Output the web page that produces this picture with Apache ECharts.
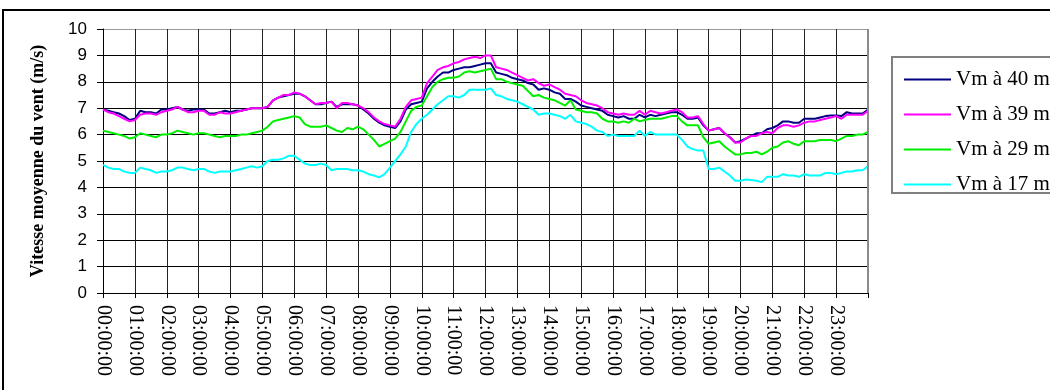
<!DOCTYPE html>
<html>
<head>
<meta charset="utf-8">
<script src="https://cdn.jsdelivr.net/npm/echarts@6/dist/echarts.min.js"></script>
<style>
  html, body { margin: 0; padding: 0; background: #fff; }
  #chart { width: 1050px; height: 390px; }
</style>
</head>
<body>
<div id="chart"></div>
<script>
// Mean wind speed, 10-minute steps over one day (00:00 -> 24:00), four heights
const vm40 = [
  6.95, 6.9, 6.85, 6.8, 6.7, 6.55,
  6.6, 6.9, 6.85, 6.85, 6.8, 6.95,
  6.95, 7.0, 7.05, 6.95, 6.9, 6.95,
  6.95, 6.95, 6.8, 6.8, 6.85, 6.9,
  6.85, 6.9, 6.9, 6.95, 7.0, 7.0,
  7.0, 7.05, 7.3, 7.4, 7.45, 7.5,
  7.55, 7.55, 7.45, 7.3, 7.15, 7.15,
  7.2, 7.25, 7.05, 7.15, 7.15, 7.15,
  7.1, 6.95, 6.8, 6.6, 6.45, 6.35,
  6.3, 6.25, 6.5, 6.95, 7.15, 7.2,
  7.25, 7.75, 8.0, 8.2, 8.35, 8.35,
  8.45, 8.5, 8.55, 8.55, 8.6, 8.65,
  8.7, 8.7, 8.35, 8.3, 8.25, 8.15,
  8.1, 8.05, 7.95, 7.9, 7.7, 7.75,
  7.7, 7.6, 7.55, 7.35, 7.35, 7.25,
  7.1, 7.05, 7.0, 6.95, 6.9, 6.75,
  6.7, 6.65, 6.7, 6.6, 6.6, 6.75,
  6.65, 6.75, 6.7, 6.75, 6.8, 6.85,
  6.85, 6.75, 6.6, 6.6, 6.65, 6.35,
  6.15, 6.2, 6.25, 6.05, 5.9, 5.7,
  5.75, 5.85, 5.95, 6.05, 6.05, 6.2,
  6.25, 6.35, 6.5, 6.5, 6.45, 6.45,
  6.6, 6.6, 6.6, 6.65, 6.7, 6.72,
  6.72, 6.7, 6.85, 6.8, 6.8, 6.8,
  6.95
];
const vm39 = [
  6.95, 6.85, 6.8, 6.7, 6.6, 6.5,
  6.55, 6.75, 6.8, 6.8, 6.75, 6.85,
  6.9, 6.95, 7.05, 6.95, 6.85, 6.85,
  6.9, 6.9, 6.75, 6.75, 6.85, 6.8,
  6.8, 6.85, 6.9, 6.95, 7.0, 7.0,
  7.0, 7.05, 7.3, 7.4, 7.5, 7.5,
  7.6, 7.55, 7.45, 7.3, 7.15, 7.2,
  7.2, 7.25, 7.0, 7.2, 7.2, 7.15,
  7.1, 7.0, 6.85, 6.65, 6.5, 6.4,
  6.35, 6.3, 6.6, 7.05, 7.3, 7.35,
  7.4, 7.95, 8.2, 8.45, 8.55, 8.6,
  8.7, 8.75, 8.85, 8.9, 8.95, 8.9,
  9.0, 9.0, 8.55, 8.5, 8.45, 8.35,
  8.25, 8.15, 8.05, 8.1, 7.95, 7.85,
  7.9, 7.8, 7.7, 7.55, 7.5, 7.45,
  7.3, 7.2, 7.15, 7.1, 7.0, 6.85,
  6.8, 6.75, 6.8, 6.75, 6.75, 6.9,
  6.75, 6.9, 6.85, 6.8, 6.85, 6.9,
  6.95, 6.85, 6.65, 6.65, 6.7, 6.4,
  6.15, 6.2, 6.25, 6.05, 5.9, 5.7,
  5.7, 5.85, 5.95, 5.95, 6.05, 6.1,
  6.05, 6.25, 6.35, 6.35, 6.3, 6.35,
  6.45, 6.5, 6.5, 6.55, 6.6, 6.65,
  6.7, 6.6, 6.75, 6.75, 6.75, 6.75,
  6.9
];
const vm29 = [
  6.15, 6.1, 6.05, 6.0, 5.95, 5.85,
  5.9, 6.05, 6.0, 5.95, 5.9, 6.0,
  6.0, 6.05, 6.15, 6.1, 6.05, 6.0,
  6.05, 6.05, 6.0, 5.95, 5.9, 5.95,
  5.95, 5.95, 6.0, 6.0, 6.05, 6.1,
  6.15, 6.3, 6.5, 6.55, 6.6, 6.65,
  6.7, 6.65, 6.4, 6.3, 6.3, 6.3,
  6.35, 6.25, 6.15, 6.1, 6.25, 6.2,
  6.3, 6.2, 6.0, 5.8, 5.55, 5.65,
  5.75, 5.85, 6.1, 6.5, 6.9, 7.05,
  7.1, 7.45, 7.8, 8.0, 8.1, 8.15,
  8.15, 8.2, 8.35, 8.4, 8.35, 8.4,
  8.45, 8.5, 8.1, 8.1, 8.0, 7.95,
  7.9, 7.85, 7.65, 7.45, 7.5, 7.4,
  7.35, 7.3, 7.2, 7.1, 7.3, 6.95,
  6.9, 6.85, 6.85, 6.8, 6.6, 6.5,
  6.5, 6.45, 6.5, 6.45, 6.6, 6.5,
  6.55, 6.6, 6.6, 6.6, 6.65, 6.7,
  6.7, 6.5, 6.35, 6.35, 6.35, 5.9,
  5.65, 5.7, 5.75, 5.55, 5.4, 5.25,
  5.25, 5.3, 5.3, 5.35, 5.25, 5.35,
  5.5, 5.55, 5.7, 5.75, 5.65, 5.6,
  5.75, 5.75, 5.75, 5.8, 5.8, 5.8,
  5.75, 5.85, 5.95, 5.95, 6.0, 6.0,
  6.1
];
const vm17 = [
  4.85, 4.75, 4.7, 4.7, 4.6, 4.55,
  4.55, 4.75, 4.7, 4.65, 4.55, 4.6,
  4.6, 4.65, 4.75, 4.75, 4.7, 4.65,
  4.7, 4.7, 4.6, 4.55, 4.6, 4.6,
  4.6, 4.65, 4.7, 4.75, 4.8, 4.75,
  4.8, 5.0, 5.05, 5.05, 5.1, 5.2,
  5.2, 5.05, 4.9, 4.85, 4.85, 4.9,
  4.85, 4.65, 4.7, 4.7, 4.7, 4.65,
  4.65, 4.6, 4.5, 4.45, 4.38, 4.5,
  4.75, 5.0, 5.25, 5.55, 6.1, 6.4,
  6.6, 6.75, 6.95, 7.15, 7.3, 7.45,
  7.45, 7.4, 7.5, 7.7, 7.7, 7.7,
  7.7, 7.75, 7.5, 7.45, 7.35, 7.3,
  7.25, 7.15, 7.05, 6.95, 6.75, 6.8,
  6.8, 6.75, 6.7, 6.6, 6.75, 6.5,
  6.45, 6.4, 6.3, 6.15, 6.1, 5.95,
  6.0, 5.95, 5.95, 5.95, 5.95, 6.15,
  5.95, 6.1, 6.0, 6.0, 6.0, 6.0,
  6.0, 5.8, 5.55, 5.45, 5.4, 5.4,
  4.7, 4.7, 4.75, 4.6, 4.45, 4.25,
  4.25, 4.3, 4.28, 4.25, 4.2, 4.4,
  4.4, 4.4, 4.5, 4.45, 4.45, 4.4,
  4.5, 4.45, 4.45, 4.45, 4.55, 4.55,
  4.5, 4.55, 4.6, 4.6, 4.65, 4.65,
  4.8
];

const seriesNames = ['Vm à 40 m', 'Vm à 39 m', 'Vm à 29 m', 'Vm à 17 m'];
const seriesColors = ['#000080', '#ff00ff', '#00ee00', '#00ffff'];
const yTicks = [0, 1, 2, 3, 4, 5, 6, 7, 8, 9, 10];

// Time stamps every 10 minutes, HH:MM:SS
const times = [];
for (let i = 0; i < vm40.length; i++) {
  const h = Math.floor(i / 6) % 24;
  const m = (i % 6) * 10;
  times.push(String(h).padStart(2, '0') + ':' + String(m).padStart(2, '0') + ':00');
}

const chart = echarts.init(document.getElementById('chart'), null, { renderer: 'canvas' });

const onHour = (i) => i % 6 === 0;
const hLineColors = yTicks.map((v, i) => (i === yTicks.length - 1 ? '#9a9a9a' : '#000'));

chart.setOption({
  animation: false,
  backgroundColor: '#fff',
  grid: { left: 103, right: 182, top: 29, bottom: 97 },
  legend: {
    orient: 'vertical',
    left: 899,
    top: 64,
    itemGap: 14,
    itemWidth: 47,
    itemHeight: 2,
    icon: 'rect',
    textStyle: { fontFamily: 'Liberation Serif', fontSize: 21, color: '#000', lineHeight: 20 },
    data: seriesNames
  },
  xAxis: {
    type: 'category',
    data: times,
    boundaryGap: false,
    axisLine: { lineStyle: { color: '#000', width: 1 } },
    axisTick: { show: true, interval: (i) => onHour(i), length: 5, lineStyle: { color: '#000' } },
    axisLabel: {
      interval: (i) => onHour(i) && i < times.length - 1,
      rotate: -90,
      margin: 12,
      padding: [0, 0, 8, 0],
      fontFamily: 'Liberation Serif',
      fontSize: 20,
      color: '#000'
    },
    splitLine: { show: true, interval: (i) => onHour(i), lineStyle: { color: '#222', width: 1 } }
  },
  yAxis: {
    type: 'value',
    min: 0,
    max: 10,
    interval: 1,
    name: 'Vitesse moyenne du vent (m/s)',
    nameLocation: 'middle',
    nameGap: 56,
    nameRotate: 90,
    nameTextStyle: { fontFamily: 'Liberation Serif', fontWeight: 'bold', fontSize: 18, color: '#000' },
    axisLine: { show: true, lineStyle: { color: '#000', width: 1 } },
    axisTick: { show: true, length: 6, lineStyle: { color: '#000' } },
    axisLabel: { margin: 16, fontFamily: 'Liberation Sans', fontSize: 17, color: '#000' },
    splitLine: { show: true, lineStyle: { color: hLineColors, width: 1 } }
  },
  series: [
    { name: seriesNames[0], data: vm40, color: seriesColors[0] },
    { name: seriesNames[1], data: vm39, color: seriesColors[1] },
    { name: seriesNames[2], data: vm29, color: seriesColors[2] },
    { name: seriesNames[3], data: vm17, color: seriesColors[3] }
  ].map((s) => ({
    type: 'line',
    name: s.name,
    data: s.data,
    color: s.color,
    showSymbol: false,
    symbol: 'none',
    lineStyle: { width: 2, color: s.color },
    z: 3
  })),
  graphic: [
    // outer chart frame
    { type: 'rect', shape: { x: 3, y: 10, width: 1100, height: 420 }, style: { fill: 'none', stroke: '#000', lineWidth: 2 }, silent: true },
    // plot area right border
    { type: 'line', shape: { x1: 868, y1: 29, x2: 868, y2: 293 }, style: { stroke: '#8a8a8a', lineWidth: 2 }, z: 10, silent: true },
    // legend frame
    { type: 'rect', shape: { x: 892, y: 57, width: 200, height: 136 }, style: { fill: 'none', stroke: '#808080', lineWidth: 2 }, silent: true }
  ]
});
</script>
</body>
</html>
